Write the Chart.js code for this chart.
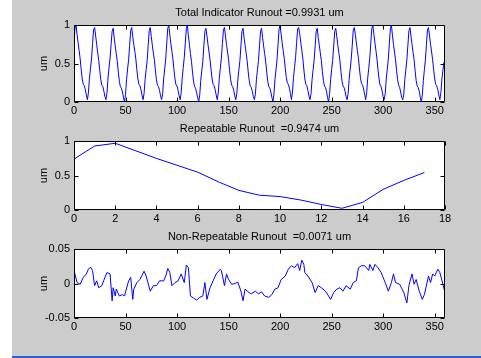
<!DOCTYPE html>
<html>
<head>
<meta charset="utf-8">
<script src="https://cdn.jsdelivr.net/npm/chart.js@4.4.1/dist/chart.umd.min.js"></script>
<style>
  html, body { margin: 0; padding: 0; }
  body { width: 481px; height: 358px; background: #cccccc; position: relative; overflow: hidden; }
  #leftStrip { position: absolute; left: 0; top: 0; width: 12px; height: 358px; background: #ffffff; }
  #bottomBar { position: absolute; left: 12px; top: 356px; width: 469px; height: 2px; background: #2f5fd0; }
  canvas { position: absolute; left: 12px; }
</style>
</head>
<body>
<div id="leftStrip"></div>
<div id="bottomBar"></div>
<canvas id="tirChart" width="469" height="118" style="top:0px"></canvas>
<canvas id="rroChart" width="469" height="110" style="top:116px"></canvas>
<canvas id="nrroChart" width="469" height="110" style="top:224px"></canvas>
<script>
// titles
const tirTitle = 'Total Indicator Runout =0.9931 um';
const rroTitle = 'Repeatable Runout  =0.9474 um';
const nrroTitle = 'Non-Repeatable Runout  =0.0071 um';
const unitLabel = 'um';

// total indicator runout, one value per degree (0..359), 18 per row
const tirValues = [
  0.76,0.96,1.00,0.88,0.77,0.67,0.56,0.42,0.30,0.23,0.21,0.16,0.09,0.03,0.12,0.31,0.44,0.56,
  0.76,0.94,0.97,0.86,0.75,0.64,0.54,0.41,0.29,0.22,0.20,0.14,0.07,0.03,0.12,0.31,0.45,0.57,
  0.75,0.92,0.96,0.84,0.73,0.63,0.53,0.39,0.27,0.20,0.18,0.13,0.06,0.00,0.10,0.29,0.43,0.55,
  0.74,0.93,0.97,0.85,0.75,0.66,0.56,0.42,0.30,0.23,0.21,0.16,0.09,0.03,0.11,0.29,0.42,0.54,
  0.74,0.93,0.97,0.85,0.74,0.64,0.55,0.41,0.29,0.22,0.20,0.15,0.08,0.03,0.11,0.30,0.43,0.56,
  0.77,0.96,1.00,0.87,0.76,0.66,0.56,0.42,0.30,0.22,0.21,0.15,0.08,0.03,0.12,0.31,0.45,0.58,
  0.77,0.96,1.00,0.86,0.75,0.63,0.53,0.39,0.27,0.20,0.18,0.12,0.06,0.00,0.09,0.28,0.41,0.53,
  0.73,0.92,0.96,0.86,0.75,0.65,0.55,0.42,0.30,0.23,0.21,0.16,0.09,0.03,0.12,0.31,0.44,0.57,
  0.76,0.94,0.97,0.86,0.75,0.65,0.55,0.41,0.29,0.22,0.20,0.15,0.08,0.03,0.11,0.29,0.42,0.54,
  0.73,0.92,0.96,0.84,0.74,0.64,0.54,0.40,0.28,0.21,0.19,0.14,0.07,0.03,0.10,0.29,0.42,0.54,
  0.73,0.92,0.96,0.84,0.73,0.63,0.53,0.39,0.27,0.20,0.18,0.13,0.06,0.01,0.10,0.29,0.42,0.55,
  0.75,0.95,1.00,0.88,0.77,0.67,0.57,0.44,0.32,0.25,0.23,0.18,0.11,0.03,0.13,0.32,0.45,0.58,
  0.77,0.95,0.97,0.89,0.78,0.68,0.57,0.43,0.30,0.23,0.21,0.15,0.08,0.03,0.11,0.29,0.42,0.54,
  0.73,0.92,0.96,0.84,0.74,0.64,0.54,0.40,0.28,0.21,0.19,0.14,0.06,0.00,0.10,0.29,0.42,0.54,
  0.73,0.92,0.96,0.85,0.74,0.64,0.54,0.40,0.28,0.21,0.19,0.14,0.07,0.03,0.11,0.30,0.43,0.56,
  0.74,0.94,0.97,0.88,0.77,0.67,0.57,0.43,0.31,0.24,0.22,0.17,0.10,0.03,0.12,0.31,0.44,0.57,
  0.77,0.96,1.00,0.88,0.77,0.67,0.56,0.42,0.30,0.22,0.20,0.14,0.07,0.03,0.11,0.30,0.43,0.56,
  0.76,0.96,1.00,0.87,0.75,0.65,0.55,0.41,0.29,0.22,0.19,0.13,0.06,0.03,0.10,0.29,0.42,0.55,
  0.74,0.93,0.97,0.86,0.75,0.65,0.55,0.41,0.28,0.21,0.19,0.14,0.06,0.00,0.09,0.28,0.42,0.55,
  0.75,0.94,0.97,0.86,0.75,0.65,0.55,0.42,0.30,0.23,0.21,0.16,0.09,0.03,0.12,0.30,0.42,0.52
];

// repeatable runout, per sample 0..17
const rroSamples = [0,1,2,3,4,5,6,7,8,9,10,11,12,13,14,15,16,17];
const rroValues = [0.74,0.93,0.97,0.86,0.75,0.65,0.55,0.41,0.285,0.215,0.195,0.145,0.08,0.025,0.11,0.30,0.43,0.545];

// non-repeatable runout
const nrroDeg = [0,3,6,9,12,14,16,18,20,22,24,27,30,32,35,37,38,40,41,44,47,49,53,55,57,58,61,64,68,70,
  74,77,80,83,87,89,91,93,95,98,101,104,107,109,111,113,116,119,122,125,127,129,132,135,138,142,143,146,148,150,
  153,156,159,162,164,166,169,172,176,179,182,185,189,192,195,198,201,205,208,211,214,217,219,221,223,224,227,231,234,237,
  240,244,247,249,252,255,258,261,264,268,271,274,276,279,282,286,287,290,292,295,298,302,305,308,310,312,316,320,323,325,
  328,330,332,335,338,340,344,346,348,350,353,355,358,360];
const nrroVal = [0.019,0.0015,-0.001,0.009,0.014,0.021,0.024,0.019,-0.003,0.004,-0.006,-0.003,0.009,0.016,0.014,-0.025,-0.006,-0.018,-0.008,-0.018,-0.016,-0.018,0.004,0.009,-0.023,-0.008,0.0015,0.006,0.018,0.011,
  -0.011,-0.003,-0.003,0.004,0.004,0.011,0.022,0.016,-0.003,0.0015,0.004,0.014,0.0015,0.027,0.023,-0.018,-0.021,-0.024,-0.020,-0.018,0.0015,-0.023,-0.006,0.004,0.014,0.021,0.019,-0.003,0.014,0.006,
  -0.001,0,0.002,-0.011,-0.025,-0.008,-0.012,-0.015,-0.011,-0.015,-0.012,-0.018,-0.020,-0.016,-0.008,-0.006,0.006,0.011,0.021,0.026,0.023,0.029,0.019,0.034,0.028,0.016,0.011,0.0015,-0.013,-0.003,
  -0.006,-0.011,-0.018,-0.023,-0.013,-0.008,-0.006,-0.011,-0.003,-0.008,0.0015,0.004,0.023,0.026,0.026,0.019,0.028,0.019,0.028,0.023,0.016,0.0015,-0.011,0.0015,0.014,0.0015,-0.001,-0.013,-0.028,-0.003,
  0.014,-0.001,0.006,-0.011,-0.023,-0.016,0.011,0.0015,0.014,0.011,0.021,0.016,-0.001,-0.013];

// axis ticks
const degTicks = { min: 0, max: 360, step: 50 };
const sampleTicks = { min: 0, max: 18, step: 2 };
const unitTicks = { min: 0, max: 1, step: 0.5 };
const nrroTicks = { min: -0.05, max: 0.05, step: 0.05 };

const FONT = { family: '"Liberation Sans", Arial, Helvetica, sans-serif', size: 11, weight: 'normal' };

// white axes box with inward ticks on all four sides, like matlab
const boxPlugin = {
  id: 'box',
  beforeDraw(chart) {
    const a = chart.chartArea, ctx = chart.ctx;
    ctx.save();
    ctx.fillStyle = '#ffffff';
    ctx.fillRect(a.left, a.top, a.right - a.left, a.bottom - a.top);
    ctx.restore();
  },
  afterDraw(chart) {
    const a = chart.chartArea, ctx = chart.ctx;
    const L = 4;
    ctx.save();
    ctx.strokeStyle = '#000000';
    ctx.lineWidth = 1;
    ctx.beginPath();
    const l = Math.round(a.left) + 0.5, r = Math.round(a.right) - 0.5;
    const t = Math.round(a.top) + 0.5, b = Math.round(a.bottom) - 0.5;
    ctx.rect(l, t, r - l, b - t);
    chart.scales.x.ticks.forEach(tk => {
      const px = Math.round(chart.scales.x.getPixelForValue(tk.value)) + 0.5;
      ctx.moveTo(px, b); ctx.lineTo(px, b - L);
      ctx.moveTo(px, t); ctx.lineTo(px, t + L);
    });
    chart.scales.y.ticks.forEach(tk => {
      const py = Math.round(chart.scales.y.getPixelForValue(tk.value)) + 0.5;
      ctx.moveTo(l, py); ctx.lineTo(l + L, py);
      ctx.moveTo(r, py); ctx.lineTo(r - L, py);
    });
    ctx.stroke();
    ctx.restore();
  }
};

function fmt(v) { return String(+v.toFixed(2)); }

function makeChart(id, title, points, xt, yt, xHeight) {
  return new Chart(document.getElementById(id), {
    type: 'line',
    data: { datasets: [{ data: points, borderColor: '#0000ff', borderWidth: 1, pointRadius: 0, tension: 0, fill: false }] },
    plugins: [boxPlugin],
    options: {
      responsive: false,
      animation: false,
      devicePixelRatio: 1,
      layout: { padding: { left: 0, right: 36, top: 0, bottom: 0 } },
      plugins: {
        legend: { display: false },
        tooltip: { enabled: false },
        title: { display: true, text: title, color: '#000', font: FONT, fullSize: false, padding: { top: 6, bottom: 6 } }
      },
      scales: {
        x: {
          type: 'linear', min: xt.min, max: xt.max,
          grid: { display: false, drawTicks: false }, border: { display: false },
          ticks: { stepSize: xt.step, includeBounds: false, autoSkip: false, maxRotation: 0, color: '#000', font: FONT, padding: 2, callback: fmt },
          afterFit(s) { s.height = xHeight; }
        },
        y: {
          type: 'linear', min: yt.min, max: yt.max,
          grid: { display: false, drawTicks: false }, border: { display: false },
          ticks: { stepSize: yt.step, color: '#000', font: FONT, padding: 4, callback: fmt },
          title: { display: true, text: unitLabel, color: '#000', font: FONT, padding: { top: 25, bottom: 0 } },
          afterFit(s) { s.width = 62; }
        }
      }
    }
  });
}

makeChart('tirChart', tirTitle, tirValues.map((v, i) => ({ x: i, y: v })), degTicks, unitTicks, 16);
makeChart('rroChart', rroTitle, rroSamples.map((s, i) => ({ x: s, y: rroValues[i] })), sampleTicks, unitTicks, 16);
makeChart('nrroChart', nrroTitle, nrroDeg.map((d, i) => ({ x: d, y: nrroVal[i] })), degTicks, nrroTicks, 16);
</script>
</body>
</html>
